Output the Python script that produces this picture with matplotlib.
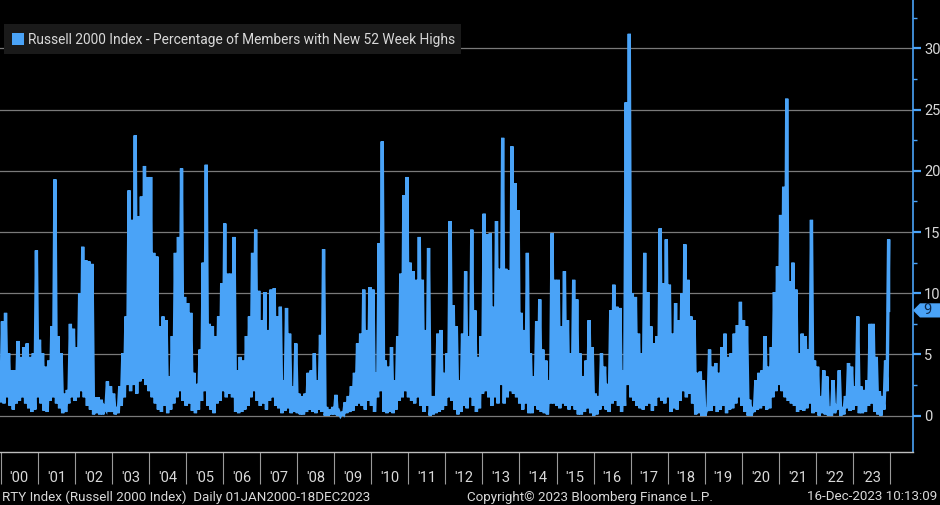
import matplotlib
matplotlib.use("Agg")
import matplotlib.pyplot as plt
import numpy as np
from matplotlib.patches import Rectangle, Polygon
from matplotlib.transforms import blended_transform_factory

plt.rcParams["font.family"] = ["Roboto", "DejaVu Sans"]

# Monthly max / min of the daily percentage of members at new 52-week highs,
# read off the Bloomberg chart (Jan 2000 .. Dec 2023)
years = list(range(2000, 2024))

monthly_high = [
    [7.7, 8.4, 5.1, 3.7, 3.7, 6.1, 4.8, 5.6, 5.9, 4.8, 5.1, 13.5],       # 2000
    [6.2, 5.1, 4.0, 4.5, 7.3, 19.3, 6.5, 5.1, 1.8, 2.1, 7.5, 7.1],       # 2001
    [5.6, 10.0, 13.8, 12.7, 12.6, 12.4, 1.5, 1.5, 1.3, 0.7, 2.8, 2.4],   # 2002
    [1.8, 0.7, 2.4, 5.1, 8.1, 18.4, 16.0, 22.9, 16.3, 17.9, 20.4, 19.5], # 2003
    [19.5, 13.3, 13.0, 7.3, 8.1, 7.8, 3.2, 6.5, 13.3, 14.6, 20.2, 9.7],  # 2004
    [9.2, 8.4, 3.5, 2.6, 5.4, 12.5, 20.5, 7.5, 7.3, 6.5, 8.1, 10.8],     # 2005
    [15.7, 11.6, 11.6, 14.6, 3.7, 4.8, 4.5, 6.5, 8.1, 13.3, 15.2, 10.2], # 2006
    [7.8, 10.1, 7.0, 10.3, 10.4, 8.1, 8.9, 2.9, 8.8, 6.7, 2.4, 5.9],     # 2007
    [1.8, 1.6, 1.8, 3.5, 3.7, 5.1, 2.9, 6.6, 13.6, 0.7, 0.5, 0.7],       # 2008
    [1.7, 0.3, 0.2, 1.1, 1.6, 2.4, 3.5, 5.9, 6.7, 10.3, 7.0, 10.5],      # 2009
    [10.3, 3.5, 14.1, 22.4, 4.5, 4.0, 5.6, 2.9, 6.5, 11.6, 18.0, 19.5],  # 2010
    [12.5, 11.8, 11.1, 14.6, 11.1, 7.0, 13.7, 1.6, 1.6, 6.7, 7.0, 3.5],  # 2011
    [5.1, 15.9, 9.0, 7.3, 2.9, 6.7, 11.8, 6.5, 15.2, 8.6, 4.8, 6.5],     # 2012
    [16.5, 14.8, 14.9, 8.9, 15.9, 12.0, 22.7, 12.0, 11.9, 22.0, 19.0, 16.8],  # 2013
    [8.4, 7.0, 13.3, 5.1, 3.2, 7.7, 9.5, 5.4, 4.5, 2.9, 14.9, 11.1],     # 2014
    [11.1, 7.3, 11.8, 7.8, 5.1, 11.1, 9.5, 5.1, 3.2, 4.5, 7.8, 5.6],     # 2015
    [1.8, 1.6, 5.1, 4.0, 2.6, 8.6, 10.7, 8.9, 8.8, 3.7, 25.6, 31.2],     # 2016
    [10.0, 9.7, 6.7, 5.1, 13.3, 10.1, 7.3, 5.9, 6.5, 15.3, 10.8, 14.4],  # 2017
    [10.7, 6.7, 9.2, 7.8, 10.0, 14.0, 11.1, 8.1, 7.8, 3.5, 3.6, 2.9],    # 2018
    [0.5, 5.4, 4.0, 4.3, 3.5, 5.6, 6.7, 4.8, 5.1, 6.7, 7.4, 9.3],        # 2019
    [7.8, 7.3, 1.3, 0.7, 2.9, 3.5, 3.7, 6.5, 4.0, 5.6, 10.1, 12.2],      # 2020
    [16.4, 18.7, 25.9, 11.0, 12.5, 10.3, 5.1, 6.7, 6.5, 5.4, 16.0, 4.5], # 2021
    [4.0, 1.6, 3.7, 3.2, 0.7, 2.9, 0.7, 3.7, 0.7, 1.6, 4.3, 4.0],        # 2022
    [2.4, 8.1, 2.4, 2.1, 2.9, 7.5, 7.5, 4.8, 2.0, 1.6, 4.5, 14.4],       # 2023
]

monthly_low = [
    [1.2, 1.0, 1.5, 0.8, 0.5, 1.0, 1.2, 1.5, 1.0, 0.6, 0.3, 0.5],
    [1.5, 1.0, 0.4, 0.3, 1.2, 1.5, 1.0, 0.6, 0.2, 0.3, 1.0, 1.5],
    [1.2, 1.5, 2.0, 1.5, 0.8, 0.5, 0.1, 0.2, 0.1, 0.1, 0.5, 0.3],
    [0.3, 0.1, 0.2, 0.8, 1.5, 2.5, 2.0, 2.5, 1.8, 2.8, 3.0, 2.5],
    [2.0, 1.5, 1.0, 0.5, 0.3, 0.8, 0.2, 0.5, 1.0, 1.5, 2.0, 1.2],
    [0.8, 1.0, 0.4, 0.2, 0.5, 1.2, 2.0, 0.8, 0.5, 0.2, 1.0, 1.2],
    [2.0, 1.5, 1.8, 1.5, 0.3, 0.2, 0.3, 0.5, 0.8, 1.5, 2.0, 1.2],
    [0.8, 1.0, 0.5, 1.2, 1.5, 0.8, 0.6, 0.2, 0.4, 0.6, 0.2, 0.3],
    [0.2, 0.1, 0.1, 0.3, 0.5, 0.3, 0.2, 0.5, 0.3, 0.0, 0.0, 0.1],
    [0.1, 0.0, 0.0, 0.1, 0.2, 0.3, 0.4, 0.8, 1.0, 0.8, 0.5, 1.2],
    [0.8, 0.3, 1.5, 2.0, 0.3, 0.2, 0.3, 0.2, 0.5, 1.2, 1.5, 2.0],
    [1.5, 1.2, 1.0, 1.5, 0.8, 0.3, 0.8, 0.0, 0.1, 0.2, 0.3, 0.5],
    [0.8, 1.5, 1.2, 0.5, 0.1, 0.3, 0.8, 0.6, 1.5, 0.8, 0.3, 0.6],
    [1.8, 2.0, 1.5, 0.8, 1.5, 1.0, 2.5, 1.0, 1.5, 2.0, 1.8, 1.5],
    [1.0, 0.5, 1.0, 0.2, 0.2, 0.8, 0.5, 0.3, 0.2, 0.1, 1.0, 1.0],
    [0.8, 0.6, 1.0, 0.8, 0.5, 0.8, 0.5, 0.1, 0.1, 0.3, 0.6, 0.2],
    [0.0, 0.1, 0.5, 0.8, 0.5, 0.3, 1.0, 1.2, 0.8, 0.3, 0.8, 2.5],
    [1.5, 1.2, 0.8, 0.6, 0.5, 0.8, 1.0, 0.4, 0.8, 1.5, 1.2, 1.0],
    [1.5, 0.3, 0.6, 0.5, 1.2, 2.0, 1.5, 1.8, 1.0, 0.1, 0.2, 0.0],
    [0.0, 0.5, 0.4, 0.8, 0.3, 0.5, 0.8, 0.2, 0.5, 0.6, 1.0, 1.5],
    [0.8, 0.3, 0.0, 0.0, 0.3, 0.5, 0.6, 0.8, 0.5, 0.6, 1.5, 2.0],
    [2.5, 2.0, 1.5, 1.2, 1.0, 0.8, 0.3, 0.5, 0.4, 0.6, 1.0, 0.2],
    [0.3, 0.0, 0.2, 0.1, 0.0, 0.0, 0.2, 0.5, 0.0, 0.1, 0.6, 0.4],
    [0.5, 0.8, 0.2, 0.2, 0.3, 0.8, 1.0, 0.3, 0.1, 0.0, 0.5, 2.0],
]

last_value = 8.6          # 15-Dec-2023 reading shown in the axis tag
last_date = 2023.962      # 18-Dec-2023 as decimal year

y_ticks = [0, 5, 10, 15, 20, 25, 30]

BLUE = "#4aa3f7"
TEXT = "#d9d9d9"
GRID = "#7a7a7a"

# interleave min/max within each month so the daily range shows as a dense band
xs, ys = [], []
for i, yr in enumerate(years):
    for m in range(12):
        xs.append(yr + (m + 0.05) / 12)
        ys.append(monthly_low[i][m])
        xs.append(yr + (m + 0.55) / 12)
        ys.append(monthly_high[i][m])
xs.append(last_date)
ys.append(last_value)

fig = plt.figure(figsize=(9.4, 5.05), dpi=100, facecolor="black")
ax = fig.add_axes([0, 53 / 505, 913 / 940, 452 / 505])
ax.set_facecolor("black")

ax.plot(xs, ys, color=BLUE, linewidth=2.4, solid_joinstyle="miter", zorder=3)

ax.set_xlim(1999.98, 2024.62)
ax.set_ylim(-2.97, 33.96)

# right value axis
ax.yaxis.tick_right()
ax.set_yticks(y_ticks)
ax.set_yticks(np.arange(2.5, 33, 5), minor=True)
ax.tick_params(axis="y", which="major", colors=BLUE, length=6, width=1.6,
               labelcolor=TEXT, labelsize=10.5, pad=2)
ax.tick_params(axis="y", which="minor", colors=BLUE, length=3, width=1)
ax.grid(axis="y", which="major", color=GRID, linewidth=0.9, zorder=1)

# year separators and labels
ax.set_xticks(list(range(2000, 2025)))
ax.set_xticklabels([])
ax.set_xticks([y + 0.5 for y in years], minor=True)
ax.set_xticklabels(["'" + str(y)[2:] for y in years], minor=True)
ax.tick_params(axis="x", which="major", colors="#9a9a9a", length=23, width=0.8)
ax.tick_params(axis="x", which="minor", length=0, labelcolor=TEXT,
               labelsize=10.5, pad=14)

for side in ["top", "left"]:
    ax.spines[side].set_visible(False)
ax.spines["right"].set_color(BLUE)
ax.spines["right"].set_linewidth(1.2)
ax.spines["bottom"].set_color("#bdbdbd")
ax.spines["bottom"].set_linewidth(1.0)

# last value tag on the right axis
tr = blended_transform_factory(fig.transFigure, ax.transData)
h = 0.58
x0 = 913 / 940
tag = Polygon([(x0, last_value), (x0 + 7 / 940, last_value + h),
               (1.0, last_value + h), (1.0, last_value - h),
               (x0 + 7 / 940, last_value - h)],
              closed=True, transform=tr, facecolor=BLUE, edgecolor="none",
              clip_on=False, zorder=5)
ax.add_patch(tag)
ax.text(927 / 940, last_value, f"{last_value:.0f}", transform=tr,
        color="#0d2748", fontsize=10.5, va="center", ha="center", zorder=6,
        clip_on=False)

# legend box
fig.patches.append(Rectangle((4 / 940, 1 - 54 / 505), 457 / 940, 30 / 505,
                             transform=fig.transFigure, facecolor="#1a1a1a",
                             edgecolor="none", zorder=4))
fig.patches.append(Rectangle((12 / 940, 1 - 45 / 505), 12 / 940, 12 / 505,
                             transform=fig.transFigure, facecolor=BLUE,
                             edgecolor="none", zorder=5))
fig.text(28 / 940, 1 - 40 / 505,
         "Russell 2000 Index - Percentage of Members with New 52 Week Highs",
         color=TEXT, fontsize=9.9, va="center", ha="left", zorder=6)

# footer
fig.text(2 / 940, 1 - 497 / 505,
         "RTY Index (Russell 2000 Index)  Daily 01JAN2000-18DEC2023",
         color=TEXT, fontsize=9.6, va="center", ha="left")
fig.text(467 / 940, 1 - 497 / 505, "Copyright\u00a9 2023 Bloomberg Finance L.P.",
         color=TEXT, fontsize=9.6, va="center", ha="left")
fig.text(937 / 940, 1 - 497 / 505, "16-Dec-2023 10:13:09",
         color=TEXT, fontsize=9.6, va="center", ha="right")

fig.savefig("out.png", dpi=100, facecolor="black")
